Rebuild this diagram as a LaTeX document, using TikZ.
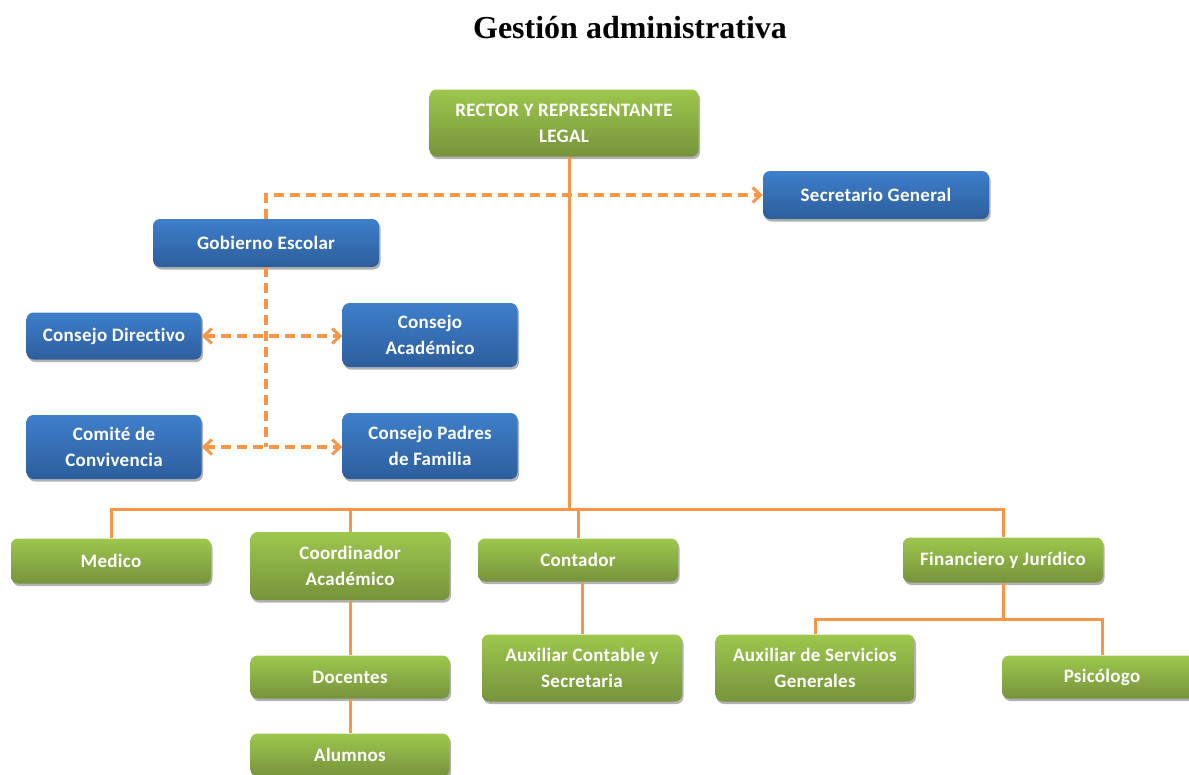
\documentclass[tikz,border=0pt]{standalone}
\usepackage{fontspec}
\newfontfamily\carl{Carlito}[LetterSpace=1.5, Ligatures={NoCommon,NoRare,NoContextual}]
\newfontfamily\tnr{Liberation Serif}
\usetikzlibrary{arrows.meta,shadows,calc}
\definecolor{grnT}{HTML}{9DC74D}
\definecolor{grnB}{HTML}{76933C}
\definecolor{bluT}{HTML}{3E7FCC}
\definecolor{bluB}{HTML}{2D5E9C}
\definecolor{org}{HTML}{F79646}
\tikzset{
  box/.style={rounded corners=7pt, draw=none, text=white, align=center, inner sep=0pt,
    font=\carl\bfseries\fontsize{19}{26}\selectfont,
    drop shadow={shadow xshift=1.5pt, shadow yshift=-2.5pt, fill=black, opacity=0.3}},
  gbox/.style={box, top color=grnT, bottom color=grnB},
  bbox/.style={box, top color=bluT, bottom color=bluB},
  solidline/.style={draw=org, line width=3pt},
  dashline/.style={draw=org, line width=3.5pt, dash pattern=on 10pt off 6pt},
  chev/.tip={Straight Barb[length=8pt,width=15pt,line width=3pt]}
}
\begin{document}
\begin{tikzpicture}[x=1pt,y=-1pt]
\clip (0,0) rectangle (1189,774);
\node[font=\tnr\bfseries\fontsize{32}{36}\selectfont, text=black] (title) at (630,28) {Gestión administrativa};

\node[gbox, minimum width=269pt, minimum height=67pt] (rector) at (564,123) {RECTOR Y REPRESENTANTE\\LEGAL};
\node[bbox, minimum width=226pt, minimum height=48pt] (sec) at (876,195) {Secretario General};
\node[bbox, minimum width=226pt, minimum height=48pt] (gob) at (266,243) {Gobierno Escolar};
\node[bbox, minimum width=175pt, minimum height=47pt] (cd) at (114,336) {Consejo Directivo};
\node[bbox, minimum width=175pt, minimum height=64pt] (ca) at (430,335) {Consejo\\Académico};
\node[bbox, minimum width=175pt, minimum height=64pt] (cc) at (114,447) {Comité de\\Convivencia};
\node[bbox, minimum width=175pt, minimum height=66pt] (cp) at (430,446) {Consejo Padres\\de Familia};

\node[gbox, minimum width=200pt, minimum height=45pt] (med) at (111,561) {Medico};
\node[gbox, minimum width=199pt, minimum height=68pt] (coord) at (350,566) {Coordinador\\Académico};
\node[gbox, minimum width=199pt, minimum height=43pt] (doc) at (350,677) {Docentes};
\node[gbox, minimum width=199pt, minimum height=43pt] (alu) at (350,755) {Alumnos};
\node[gbox, minimum width=200pt, minimum height=43pt] (cont) at (578,560) {Contador};
\node[gbox, minimum width=200pt, minimum height=67pt] (auxc) at (582,668) {Auxiliar Contable y\\Secretaria};
\node[gbox, minimum width=200pt, minimum height=45pt] (fin) at (1003,560) {Financiero y Jurídico};
\node[gbox, minimum width=199pt, minimum height=67pt] (auxs) at (815,668) {Auxiliar de Servicios\\Generales};
\node[gbox, minimum width=200pt, minimum height=43pt] (psi) at (1102,677) {Psicólogo};

% solid connectors
\coordinate (bus) at ($(rector.south)+(5,353)$);
\draw[solidline] ($(rector.south)+(5,0)$) -- (bus);
\draw[solidline] (med.north) |- (bus) -| (fin.north);
\draw[solidline] (coord.north) -- (coord.north |- bus);
\draw[solidline] (cont.north) -- (cont.north |- bus);
\draw[solidline] (coord.south) -- (doc.north);
\draw[solidline] (doc.south) -- (alu.north);
\draw[solidline] (cont.south -| auxc.north) -- (auxc.north);
\coordinate (sb) at ($(fin.south)+(0,37)$);
\draw[solidline] (fin.south) -- (sb);
\draw[solidline] (auxs.north) |- (sb) -| (psi.north);

% dashed connectors
\draw[dashline, -{chev}] (gob.north) |- (sec.west);
\coordinate (j2) at (gob.south |- cc.east);
\draw[dashline] (gob.south) -- (j2);
\draw[dashline, {chev}-{chev}] (cd.east) -- (cd.east -| ca.west);
\draw[dashline, {chev}-{chev}] (cc.east) -- (cc.east -| cp.west);
\end{tikzpicture}
\end{document}
